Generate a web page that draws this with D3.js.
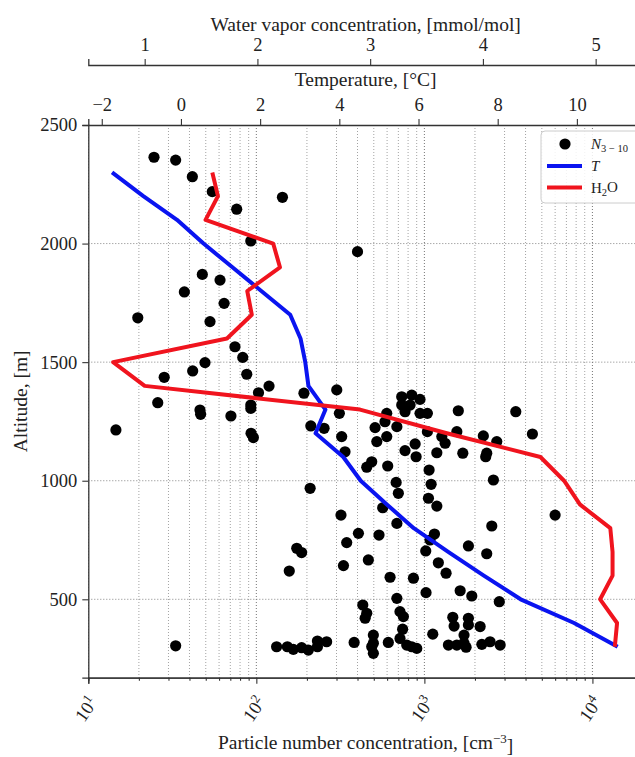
<!DOCTYPE html>
<html>
<head>
<meta charset="utf-8">
<script src="https://cdn.jsdelivr.net/npm/d3@7"></script>
<style>
body { margin: 0; background: #fff; }
svg { font-family: "Liberation Serif", "DejaVu Serif", serif; }
</style>
</head>
<body>
<script>
// particle number concentration (cm^-3) and altitude (m) for each sample
var dotN = [24.6, 33.1, 41.6, 54.7, 143, 76.4, 92.7, 400, 47.7, 60.8, 37.3, 64.3, 19.7, 53, 74.6, 83, 49.5, 41.8, 28.3, 87.7, 119, 301,
    103, 192, 25.9, 46.2, 46.6, 70.6, 92.7, 92.7, 14.6, 93, 96, 211, 253, 312, 322, 337, 209, 319, 174, 186, 157, 330, 345, 405,
    33.1, 132, 153, 166, 186, 204, 231, 231, 262, 382,
    733, 841, 942, 733, 822, 767, 597, 942, 1042, 1592, 3499, 583, 509, 686, 1042, 1560, 1270, 1329, 2243, 2697, 4395, 597, 521,
    881, 767, 893, 1186, 1693, 2350, 2317, 486, 454, 605, 1067, 2575, 679, 700, 1097, 1057, 1186, 565, 686, 2518, 5998, 537, 1148,
    1081, 1019, 1828, 2350, 464, 1211, 1346, 625, 861, 1023, 1633, 1915, 2792, 686, 430, 454, 444, 716, 750, 1476, 1828, 1503,
    1828, 2147, 742, 497, 1122, 1722, 497, 610, 716, 486, 497, 785, 841, 901, 1390, 1560, 1722, 1771, 2198, 2460, 2825];
var dotAlt = [2364, 2352, 2282, 2219, 2195, 2145, 2011, 1966, 1870, 1846, 1796, 1748, 1687, 1671, 1565, 1520, 1498, 1463, 1436, 1449, 1399, 1383,
    1371, 1369, 1329, 1298, 1280, 1273, 1319, 1305, 1214, 1200, 1182, 1231, 1221, 1284, 1186, 1122, 968, 855, 715, 697, 619, 642, 739, 778,
    304, 300, 300, 289, 296, 286, 300, 324, 321, 318,
    1354, 1361, 1343, 1319, 1319, 1291, 1284, 1284, 1284, 1295, 1291, 1249, 1224, 1228, 1207, 1207, 1186, 1158, 1189, 1165, 1197, 1186, 1165,
    1155, 1127, 1101, 1118, 1116, 1116, 1101, 1080, 1057, 1062, 1045, 1003, 993, 947, 985, 926, 893, 886, 820, 809, 855, 771, 775,
    750, 704, 725, 692, 666, 654, 610, 593, 589, 528, 536, 514, 490, 504, 476, 441, 420, 448, 427, 424, 420, 387,
    392, 385, 374, 349, 353, 349, 315, 318, 335, 300, 272, 307, 300, 293, 307, 307, 315, 298, 310, 321, 307];

// vertical profiles
var profileAlt = [2300, 2200, 2100, 2000, 1900, 1800, 1700, 1600, 1500, 1400, 1300, 1200, 1100, 1000, 900, 800, 700, 600, 500, 400, 300];
var tempC = [-1.74, -0.95, -0.10, 0.57, 1.30, 2.03, 2.76, 3.02, 3.14, 3.22, 3.65, 3.40, 4.10, 4.54, 5.20, 5.88, 6.75, 7.65, 8.58, 9.93, 11.03];
var h2oMix = [1.60, 1.65, 1.54, 2.14, 2.20, 1.91, 1.95, 1.73, 0.72, 1.00, 2.91, 3.68, 4.51, 4.72, 4.86, 5.13, 5.15, 5.15, 5.04, 5.19, 5.17];

var altTicks = [500, 1000, 1500, 2000, 2500];
var tempTicks = [-2, 0, 2, 4, 6, 8, 10];
var h2oTicks = [1, 2, 3, 4, 5];
var decades = [10, 100, 1000, 10000];

var w = 635, h = 757;
var pLeft = 88.3, pRight = 643, pTop = 125, pBottom = 677.7;

var svg = d3.select("body").append("svg")
    .attr("width", w)
    .attr("height", h);

var x = d3.scaleLog().domain([10, 20000]).range([pLeft, pRight]);
var y = d3.scaleLinear().domain([169.4, 2500]).range([pBottom, pTop]);
var xT = d3.scaleLinear().domain([-2.34, 11.67]).range([pLeft, pRight]);
var xW = d3.scaleLinear().domain([0.50, 5.42]).range([pLeft, pRight]);

// minor log positions
var logTicks = [];
decades.forEach(function (d) {
    for (var k = 1; k < 10; k++) {
        if (d * k <= 20000) logTicks.push(d * k);
    }
});
var minorTicks = logTicks.filter(function (v) { return decades.indexOf(v) < 0; });

svg.append("clipPath").attr("id", "plotclip")
    .append("rect")
    .attr("x", pLeft).attr("y", pTop)
    .attr("width", pRight - pLeft).attr("height", pBottom - pTop);

// grid
var grid = svg.append("g").attr("clip-path", "url(#plotclip)");
grid.selectAll(".vgrid")
    .data(logTicks)
    .enter().append("line")
    .attr("x1", function (d) { return x(d); })
    .attr("x2", function (d) { return x(d); })
    .attr("y1", pTop).attr("y2", pBottom)
    .attr("stroke", function (d) { return decades.indexOf(d) >= 0 ? "#666" : "#999"; })
    .attr("stroke-width", 0.9)
    .attr("stroke-dasharray", "1,2");
grid.selectAll(".hgrid")
    .data(altTicks)
    .enter().append("line")
    .attr("x1", pLeft).attr("x2", pRight)
    .attr("y1", function (d) { return y(d); })
    .attr("y2", function (d) { return y(d); })
    .attr("stroke", "#777")
    .attr("stroke-width", 0.9)
    .attr("stroke-dasharray", "1,2");

// particle concentrations
var plot = svg.append("g").attr("clip-path", "url(#plotclip)");
plot.selectAll("circle")
    .data(d3.range(dotN.length))
    .enter().append("circle")
    .attr("cx", function (i) { return x(dotN[i]); })
    .attr("cy", function (i) { return y(dotAlt[i]); })
    .attr("r", 5.6)
    .attr("fill", "#000");

var tempLine = d3.line()
    .x(function (i) { return xT(tempC[i]); })
    .y(function (i) { return y(profileAlt[i]); });
var h2oLine = d3.line()
    .x(function (i) { return xW(h2oMix[i]); })
    .y(function (i) { return y(profileAlt[i]); });

plot.append("path")
    .attr("d", tempLine(d3.range(profileAlt.length)))
    .attr("fill", "none")
    .attr("stroke", "#0a14f0")
    .attr("stroke-width", 4)
    .attr("stroke-linejoin", "round");
plot.append("path")
    .attr("d", h2oLine(d3.range(profileAlt.length)))
    .attr("fill", "none")
    .attr("stroke", "#f0141e")
    .attr("stroke-width", 4)
    .attr("stroke-linejoin", "round");

function styleAxis(g) {
    g.attr("font-family", null);
    g.select(".domain").attr("stroke", "#333").attr("stroke-width", 1.3);
    g.selectAll(".tick line").attr("stroke", "#333").attr("stroke-width", 1.1);
    g.selectAll(".tick text").attr("fill", "#222").style("font-size", "18.5px")
        .style("font-family", "'Liberation Serif', serif");
}

// bottom log axis
svg.append("g")
    .attr("transform", "translate(0," + pBottom + ")")
    .call(d3.axisBottom(x).tickValues(minorTicks).tickSize(3).tickFormat(""))
    .call(styleAxis);
var xAxis = svg.append("g")
    .attr("transform", "translate(0," + pBottom + ")")
    .call(d3.axisBottom(x).tickValues(decades).tickSize(6).tickFormat(""))
    .call(styleAxis);
var xlab = xAxis.selectAll(".xlab")
    .data(decades)
    .enter().append("text")
    .attr("class", "xlab")
    .attr("transform", function (d) { return "translate(" + (x(d) + 5) + ",21) rotate(-55)"; })
    .attr("text-anchor", "end")
    .attr("dy", "0.35em")
    .attr("fill", "#222")
    .style("font-family", "'Liberation Serif', serif")
    .style("font-size", "18.5px");
xlab.append("tspan").text("10");
xlab.append("tspan")
    .attr("dy", "-0.55em")
    .style("font-size", "13px")
    .text(function (d) { return Math.round(Math.log10(d)); });

// left altitude axis
svg.append("g")
    .attr("transform", "translate(" + pLeft + ",0)")
    .call(d3.axisLeft(y).tickValues(altTicks).tickSize(6).tickPadding(5).tickFormat(d3.format("d")))
    .call(styleAxis);

// top temperature axis
svg.append("g")
    .attr("transform", "translate(0," + pTop + ")")
    .call(d3.axisTop(xT).tickValues(tempTicks).tickSize(6).tickPadding(8).tickFormat(d3.format("d")))
    .call(styleAxis);

// water vapour axis
svg.append("g")
    .attr("transform", "translate(0,65)")
    .call(d3.axisTop(xW).tickValues(h2oTicks).tickSize(6).tickPadding(8).tickFormat(d3.format("d")))
    .call(styleAxis);

var mid = (pLeft + pRight) / 2;
svg.append("text")
    .attr("x", mid).attr("y", 31)
    .attr("text-anchor", "middle")
    .attr("fill", "#222")
    .style("font-size", "19.5px")
    .text("Water vapor concentration, [mmol/mol]");
svg.append("text")
    .attr("x", mid).attr("y", 86)
    .attr("text-anchor", "middle")
    .attr("fill", "#222")
    .style("font-size", "19.5px")
    .text("Temperature, [°C]");

var xt = svg.append("text")
    .attr("x", mid).attr("y", 749)
    .attr("text-anchor", "middle")
    .attr("fill", "#222")
    .style("font-size", "19.5px");
xt.append("tspan").text("Particle number concentration, [cm");
xt.append("tspan").attr("dy", "-0.5em").style("font-size", "13px").text("−3");
xt.append("tspan").attr("dy", "0.5em").text("]");

svg.append("text")
    .attr("transform", "translate(27," + ((pTop + pBottom) / 2) + ") rotate(-90)")
    .attr("text-anchor", "middle")
    .attr("fill", "#222")
    .style("font-size", "19.5px")
    .text("Altitude, [m]");

// legend
var lg = svg.append("g");
lg.append("rect")
    .attr("x", 541).attr("y", 131)
    .attr("width", 110).attr("height", 72)
    .attr("rx", 4)
    .attr("fill", "#fff").attr("fill-opacity", 0.85)
    .attr("stroke", "#ccc");
lg.append("circle").attr("cx", 565).attr("cy", 144).attr("r", 5.6).attr("fill", "#000");
lg.append("line").attr("x1", 547).attr("x2", 582).attr("y1", 166).attr("y2", 166)
    .attr("stroke", "#0a14f0").attr("stroke-width", 4);
lg.append("line").attr("x1", 547).attr("x2", 582).attr("y1", 187.5).attr("y2", 187.5)
    .attr("stroke", "#f0141e").attr("stroke-width", 4);
var l1 = lg.append("text").attr("x", 591).attr("y", 149).attr("fill", "#222").style("font-size", "15px");
l1.append("tspan").style("font-style", "italic").text("N");
l1.append("tspan").attr("dy", "0.3em").style("font-size", "10.5px").text("3 − 10");
lg.append("text").attr("x", 591).attr("y", 171).attr("fill", "#222")
    .style("font-size", "15px").style("font-style", "italic").text("T");
var l3 = lg.append("text").attr("x", 591).attr("y", 193).attr("fill", "#222").style("font-size", "15px");
l3.append("tspan").text("H");
l3.append("tspan").attr("dy", "0.3em").style("font-size", "10.5px").text("2");
l3.append("tspan").attr("dy", "-0.3em").text("O");
</script>
</body>
</html>
